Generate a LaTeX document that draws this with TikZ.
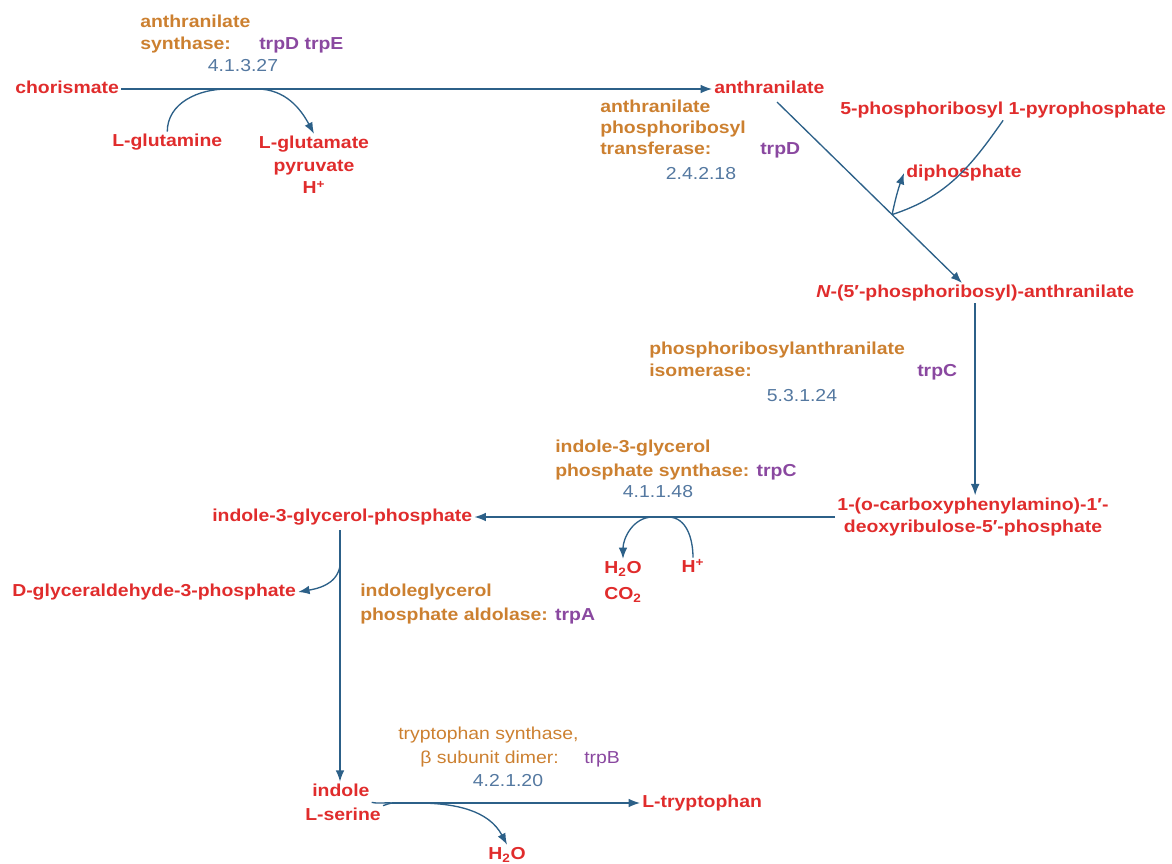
\documentclass[tikz,border=0pt]{standalone}
\usepackage{fontspec}
\setmainfont{Liberation Sans}[FakeStretch=1.12]
\usetikzlibrary{arrows.meta,calc}
\definecolor{metred}{RGB}{224,44,44}
\definecolor{enzor}{RGB}{204,128,48}
\definecolor{genpur}{RGB}{138,72,160}
\definecolor{ecblue}{RGB}{84,120,160}
\definecolor{rxnblue}{RGB}{44,96,136}
\newcommand{\fsz}{\fontsize{13}{17}\selectfont}
\begin{document}
\begin{tikzpicture}[x=0.75pt,y=0.75pt,
  every node/.style={inner sep=1.5pt, text height=9.5pt, text depth=2.6pt, font=\fsz},
  met/.style={text=metred, font=\fsz\bfseries},
  ml/.style={text height=, text depth=, align=center},
  enz/.style={text=enzor, font=\fsz\bfseries, anchor=west},
  enzr/.style={text=enzor, font=\fsz, anchor=west},
  gene/.style={text=genpur, font=\fsz\bfseries, anchor=west},
  gener/.style={text=genpur, font=\fsz, anchor=west},
  ec/.style={text=ecblue, font=\fsz},
  rxn/.style={draw=rxnblue, line width=1pt},
  tip/.style={-{Latex[length=8.5pt,width=6.5pt]}}
]
\useasboundingbox (0,0) rectangle (1172,-864);

% metabolites
\node[met,anchor=west] (chor) at (13,-89) {chorismate};
\node[met,anchor=west] (anth) at (712,-89) {anthranilate};
\node[met,anchor=west] (gln) at (110,-142) {L-glutamine};
\node[met,ml] (glu) at (314,-165) {L-glutamate\\pyruvate\\H\textsuperscript{+}};
\node[met,anchor=west] (prpp) at (838,-110) {5-phosphoribosyl 1-pyrophosphate};
\node[met,anchor=west] (diph) at (904,-173) {diphosphate};
\node[met,anchor=west] (npra) at (814,-293) {\textit{N}-(5′-phosphoribosyl)-anthranilate};
\node[met,ml] (cdrp) at (973,-517) {1-(o-carboxyphenylamino)-1′-\\deoxyribulose-5′-phosphate};
\node[met,anchor=west] (igp) at (210,-517) {indole-3-glycerol-phosphate};
\node[met,anchor=west] (g3p) at (10,-592) {D-glyceraldehyde-3-phosphate};
\node[met,ml] (hco) at (623,-582) {H\textsubscript{2}O\\[3pt]CO\textsubscript{2}};
\node[met] (hp) at (693,-568) {H\textsuperscript{+}};
\node[met,anchor=west] (ind) at (310,-792) {indole};
\node[met,anchor=west] (ser) at (303,-816) {L-serine};
\node[met,anchor=west] (trp) at (640,-803) {L-tryptophan};
\node[met] (h2ob) at (507,-855) {H\textsubscript{2}O};

% enzymes
\node[enz] (e1a) at (138,-23) {anthranilate};
\node[enz] (e1b) at (138,-45) {synthase:};
\node[gene] (g1) at (257,-45) {trpD trpE};
\node[ec] (ec1) at (243,-67) {4.1.3.27};

\node[enz] (e2a) at (598,-108) {anthranilate};
\node[enz] (e2b) at (598,-129) {phosphoribosyl};
\node[enz] (e2c) at (598,-150) {transferase:};
\node[gene] (g2) at (758,-150) {trpD};
\node[ec] (ec2) at (701,-175) {2.4.2.18};

\node[enz] (e3a) at (647,-350) {phosphoribosylanthranilate};
\node[enz] (e3b) at (647,-372) {isomerase:};
\node[gene] (g3) at (915,-372) {trpC};
\node[ec] (ec3) at (802,-397) {5.3.1.24};

\node[enz] (e4a) at (553,-448) {indole-3-glycerol};
\node[enz] (e4b) at (553,-472) {phosphate synthase: \textcolor{genpur}{trpC}};
\node[ec] (ec4) at (658,-493) {4.1.1.48};

\node[enz] (e5a) at (358,-592) {indoleglycerol};
\node[enz] (e5b) at (358,-616) {phosphate aldolase: \textcolor{genpur}{trpA}};

\node[enzr] (e6a) at (396,-735) {tryptophan synthase,};
\node[enzr] (e6b) at (418,-759) {β subunit dimer:};
\node[gener] (g6) at (582,-759) {trpB};
\node[ec] (ec6) at (508,-782) {4.2.1.20};

% connectors
\draw[rxn,tip] (chor.east) -- (chor.east -| anth.west);
\coordinate (ga) at (227,-89);
\coordinate (gb) at (257,-89);
\draw[rxn] (gln.north) to[out=90,in=180] (ga);
\draw[rxn,tip] (gb) to[out=0,in=118] (glu.north);

\coordinate (dS) at (777,-102);
\coordinate (dE) at (962,-283);
\coordinate (bp) at ($(dS)!0.622!(dE)$);
\draw[rxn,tip] (dS) -- (dE);
\draw[rxn] (prpp.south) to[out=-125,in=18] (bp);
\draw[rxn,tip] (bp) to[out=78,in=-110] (diph.west);

\draw[rxn,tip] (npra.south) -- (npra.south |- cdrp.north);
\draw[rxn,tip] (igp.east -| cdrp.west) -- (igp.east);
\coordinate (ha) at (653,-517);
\coordinate (hb) at (668,-517);
\draw[rxn,tip] (ha) to[out=180,in=90] (hco.north);
\draw[rxn] (hp.north) to[out=90,in=0] (hb);

\coordinate (vx) at (340,-530);
\draw[rxn,tip] (vx) -- (vx |- ind.north);
\coordinate (v1) at (340,-566);
\draw[rxn,tip] (v1) to[out=-100,in=10] (g3p.east);

\coordinate (m) at (392,-803);
\draw[rxn] (ind.south east) to[out=-12,in=175] (m);
\draw[rxn] (ser.north east) to[out=15,in=185] (m);
\draw[rxn,tip] (m) -- (m -| trp.west);
\coordinate (w1) at (417,-803);
\draw[rxn,tip] (w1) to[out=0,in=118] (h2ob.north);
\end{tikzpicture}
\end{document}
